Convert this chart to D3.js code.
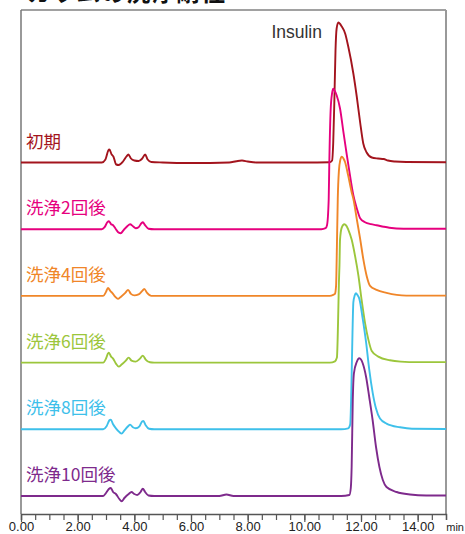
<!DOCTYPE html>
<html>
<head>
<meta charset="utf-8">
<script src="https://cdn.jsdelivr.net/npm/d3@7"></script>
<style>
  html, body { margin: 0; padding: 0; background: #fff; }
  svg { display: block; }
</style>
</head>
<body>
<svg id="chart" width="465" height="534"></svg>
<script>
// Chromatograms of insulin after repeated column washing (time in min, signal in mAU)
const seriesNames = ["初期", "洗浄2回後", "洗浄4回後", "洗浄6回後", "洗浄8回後", "洗浄10回後"];
const peakName = "Insulin";
const majorTicks = [0, 2, 4, 6, 8, 10, 12, 14];
const tickLabels = ["0.00", "2.00", "4.00", "6.00", "8.00", "10.00", "12.00", "14.00"];
const timeUnit = "min";
const titleText = "カラムの洗浄耐性";

const traceInitial = [
  [0,0],[2.85,0],[2.98,3],[3.08,12],[3.12,13],[3.2,8],[3.26,6],[3.36,-2],[3.45,-2.5],[3.6,1],
  [3.72,6],[3.79,8],[3.88,4],[4.0,2],[4.15,1.5],[4.28,4],[4.38,8],[4.47,3],[4.6,0.5],[5,0],
  [6,-0.5],[7.35,0],[7.6,1.3],[7.8,2],[8.0,1],[8.3,0],[10,0],[10.9,0.3],[10.98,2],[11.02,20],
  [11.06,62],[11.1,112],[11.14,134],[11.2,140],[11.32,136],[11.44,129],[11.55,116],[11.73,89],
  [11.85,66],[11.97,40],[12.08,19],[12.2,10],[12.38,5],[12.6,4],[12.8,3.5],[12.95,2],[13.2,1],
  [13.6,0.5],[15,0.3]
];
const traceWash2 = [
  [0,0],[2.85,0],[2.95,2],[3.05,7],[3.1,8],[3.18,5],[3.25,4],[3.35,0],[3.45,-3.5],[3.52,-4],
  [3.62,-1],[3.75,3],[3.85,5],[3.95,3],[4.05,1],[4.15,2],[4.25,6],[4.3,7],[4.38,4],[4.5,0.5],
  [4.7,0],[7,0],[10.6,0],[10.75,1],[10.8,4],[10.86,30],[10.88,64],[10.93,120],[10.98,136],
  [11.02,140.5],[11.08,138],[11.14,134],[11.26,120.7],[11.38,97],[11.5,74],[11.61,54],[11.73,34],
  [11.85,21],[11.97,11],[12.14,7],[12.35,5],[12.55,4],[12.8,2.5],[13.0,1.5],[13.5,0.5],[15,0.5]
];
const traceWash4 = [
  [0,0],[2.9,0],[3.0,4],[3.07,8],[3.15,5],[3.22,3],[3.33,-1],[3.42,-3],[3.52,-1],[3.68,3],
  [3.78,6],[3.88,2],[4.0,0.5],[4.15,1.5],[4.28,5],[4.35,7],[4.45,3],[4.6,0],[7,0],[10.9,0],
  [11.02,1],[11.08,2],[11.12,10],[11.15,50],[11.18,97],[11.22,125],[11.27,136],[11.32,139.3],
  [11.38,137.5],[11.44,133.7],[11.55,120],[11.67,103.7],[11.73,97],[11.85,77],[11.97,57],
  [12.08,37],[12.2,20],[12.32,10],[12.55,6],[12.9,3],[13.26,1],[13.6,0.3],[15,0.3]
];
const traceWash6 = [
  [0,0],[2.9,0],[3.0,4],[3.07,9],[3.1,10],[3.18,6],[3.25,4],[3.35,-1],[3.45,-4],[3.55,-2],
  [3.7,2],[3.8,5],[3.9,2],[4.05,1],[4.2,4],[4.3,7],[4.4,3],[4.55,0.3],[4.7,0],[7,0],[10.9,0],
  [11.08,1.3],[11.15,5],[11.19,40],[11.22,80],[11.24,97],[11.26,123],[11.32,135],[11.41,138.3],
  [11.48,137],[11.55,133],[11.67,123],[11.79,106.7],[11.91,86.7],[12.02,63],[12.14,40],[12.26,23],
  [12.38,11.6],[12.61,6],[13.02,2.3],[13.4,1],[14,0.5],[15,0.5]
];
const traceWash8 = [
  [0,0],[2.9,0],[3.02,3],[3.12,9],[3.17,9.7],[3.25,5],[3.35,1],[3.48,-3],[3.55,-4.3],[3.65,-1],
  [3.78,3],[3.85,4.7],[3.95,2],[4.05,1],[4.18,3],[4.28,8],[4.32,8.3],[4.4,4],[4.52,0.5],[4.7,0],
  [7,0],[11.3,0],[11.55,1],[11.62,5],[11.66,40],[11.7,97],[11.73,127],[11.78,134],[11.82,136],
  [11.88,134],[11.94,130.7],[12.06,110.7],[12.18,87],[12.29,60],[12.41,37],[12.53,20.7],
  [12.67,10.7],[12.9,5.7],[13.38,2],[13.8,0.5],[15,0.3]
];
const traceWash10 = [
  [0,0],[2.9,0],[3.0,3],[3.1,7],[3.17,8],[3.25,4],[3.35,2],[3.47,-3],[3.55,-5.3],[3.65,-2],
  [3.8,2],[3.9,4],[4.0,2],[4.1,1],[4.22,4],[4.3,7.4],[4.38,4],[4.5,0.5],[4.7,0],[7.0,0],
  [7.25,1.5],[7.5,0],[11.3,0],[11.59,1],[11.64,8],[11.67,29],[11.71,96],[11.75,122.7],
  [11.85,134],[11.94,137.7],[12.0,136.5],[12.06,132.7],[12.18,119],[12.29,99],[12.41,76],
  [12.53,49],[12.65,29],[12.77,16],[12.9,9],[13.26,4],[13.73,1.5],[14.3,0.5],[15,0.5]
];
const traces = [traceInitial, traceWash2, traceWash4, traceWash6, traceWash8, traceWash10];

// Styling
const colors = ["#a3141d", "#e6007e", "#f08629", "#9cc63c", "#3ec0ea", "#7e2a8c"];
const stackStep = 66.7;   // vertical offset between chromatograms (mAU)
const stackBase = 18;     // offset of the lowest chromatogram

const svg = d3.select("#chart");
const margin = { left: 21, right: 19, top: 10, bottom: 20 };
const W = 465, H = 534;
const plotR = W - margin.right, plotB = H - margin.bottom;

const x = d3.scaleLinear().domain([0, 15]).range([margin.left, plotR]);
const y = d3.scaleLinear().domain([0, plotB - margin.top]).range([plotB, margin.top]);

// Title (runs above the frame)
svg.append("text")
  .attr("x", 27).attr("y", 1)
  .attr("font-family", "'Noto Sans CJK JP', sans-serif")
  .attr("font-weight", "bold")
  .attr("font-size", 24)
  .attr("letter-spacing", 1)
  .attr("fill", "#111")
  .text(titleText);

// Frame
svg.append("line").attr("x1", margin.left).attr("x2", plotR)
  .attr("y1", margin.top).attr("y2", margin.top)
  .attr("stroke", "#444").attr("stroke-width", 1.2);
svg.append("line").attr("x1", plotR).attr("x2", plotR)
  .attr("y1", margin.top).attr("y2", plotB)
  .attr("stroke", "#999").attr("stroke-width", 2);
svg.append("line").attr("x1", margin.left).attr("x2", margin.left)
  .attr("y1", margin.top).attr("y2", plotB)
  .attr("stroke", "#777").attr("stroke-width", 1.5);

// Time axis: minor ticks every 0.5 min, labelled major ticks every 2 min
const minorAxis = d3.axisBottom(x).tickValues(d3.range(0, 15.001, 0.5)).tickSize(6).tickFormat("");
svg.append("g").attr("transform", `translate(0,${plotB})`).call(minorAxis)
  .call(g => g.select(".domain").attr("stroke", "#555").attr("stroke-width", 1.4))
  .call(g => g.selectAll(".tick line").attr("stroke", "#555").attr("stroke-width", 1.2));

const majorAxis = d3.axisBottom(x).tickValues(majorTicks).tickSize(8)
  .tickFormat((d, i) => tickLabels[i]);
svg.append("g").attr("transform", `translate(0,${plotB})`).call(majorAxis)
  .call(g => g.select(".domain").remove())
  .call(g => g.selectAll(".tick line").attr("stroke", "#555").attr("stroke-width", 1.2))
  .call(g => g.selectAll(".tick text")
    .attr("y", 16.5).attr("dy", null)
    .attr("font-family", "'Liberation Sans', Arial, sans-serif")
    .attr("font-size", 13).attr("fill", "#222"));

svg.append("text")
  .attr("x", W - 1).attr("y", plotB + 16.5)
  .attr("text-anchor", "end")
  .attr("font-family", "'Liberation Sans', Arial, sans-serif")
  .attr("font-size", 11).attr("fill", "#222")
  .text(timeUnit);

// Chromatograms, stacked with the first run on top
const n = traces.length;
traces.forEach((tr, i) => {
  const off = stackBase + (n - 1 - i) * stackStep;
  const line = d3.line()
    .x(d => x(d[0]))
    .y(d => y(d[1] + off))
    .curve(d3.curveMonotoneX);
  svg.append("path")
    .datum(tr)
    .attr("d", line)
    .attr("fill", "none")
    .attr("stroke", colors[i])
    .attr("stroke-width", 1.9)
    .attr("stroke-linejoin", "round");

  svg.append("text")
    .attr("x", 26)
    .attr("y", y(off) - 15)
    .attr("font-family", "'Noto Sans CJK JP', sans-serif")
    .attr("font-size", 17.5)
    .attr("fill", colors[i])
    .text(seriesNames[i]);
});

// Peak annotation
svg.append("text")
  .attr("x", 322).attr("y", 38)
  .attr("text-anchor", "end")
  .attr("font-family", "'Liberation Sans', Arial, sans-serif")
  .attr("font-size", 17.5)
  .attr("fill", "#333")
  .text(peakName);
</script>
</body>
</html>
